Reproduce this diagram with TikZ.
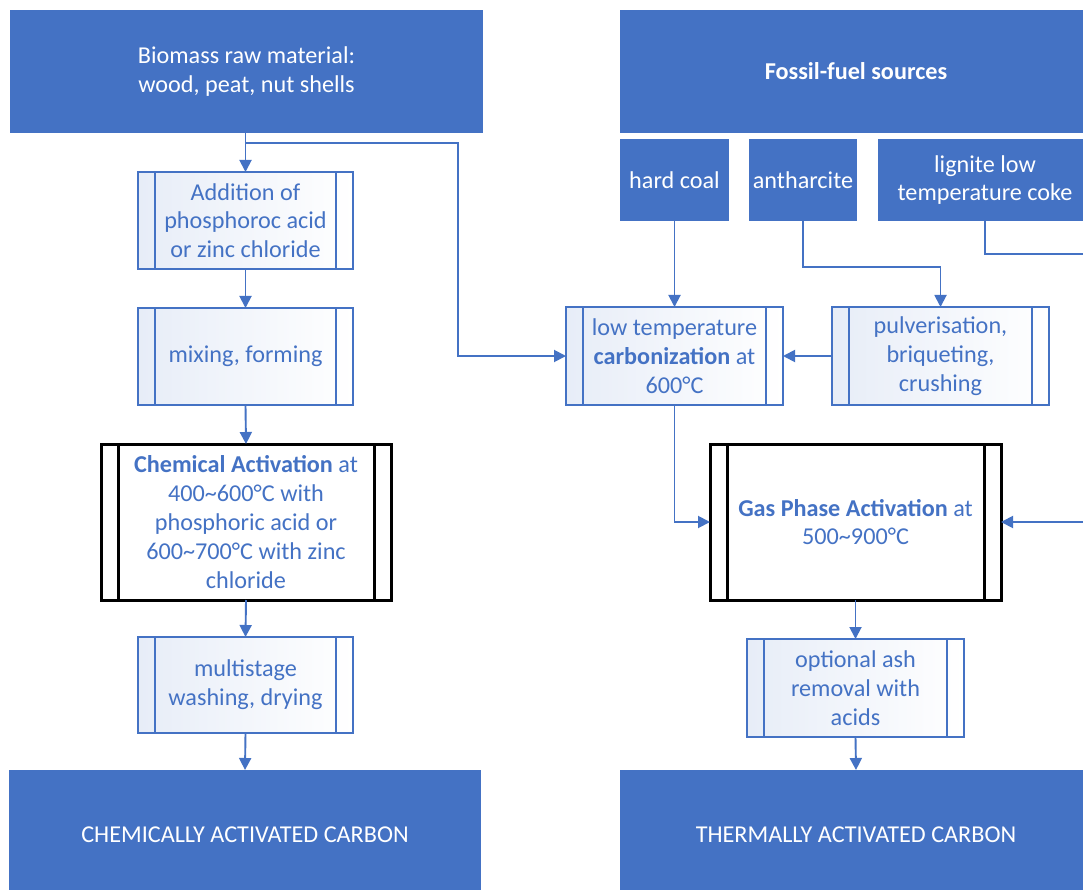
\documentclass[tikz,border=0pt]{standalone}
\usepackage{fontspec}
\setmainfont{Carlito}
\usetikzlibrary{arrows.meta}
\definecolor{mblue}{HTML}{4472C4}
\tikzset{
  base/.style={anchor=north west, align=center, inner sep=0pt, outer sep=0pt,
    font=\fontsize{24.2}{28.8}\selectfont},
  blk/.style={base, fill=mblue, text=white},
  proc/.style={base, draw=mblue, line width=1.4pt, left color=mblue!13, right color=white, text=mblue},
  act/.style={base, draw=black, line width=3pt, fill=white, text=mblue},
  conn/.style={draw=mblue, line width=1.9pt, -{Triangle[width=12pt,length=12pt]}},
  bar/.style={draw=mblue, line width=1.4pt},
  bbar/.style={draw=black, line width=3pt},
}
\newcommand\sidebars[2]{\draw[#2] ([xshift=17pt]#1.north west) -- ([xshift=17pt]#1.south west)
  ([xshift=-17pt]#1.north east) -- ([xshift=-17pt]#1.south east);}
\begin{document}
\begin{tikzpicture}[x=1pt,y=-1pt]
\useasboundingbox (0,0) rectangle (1083,890);
\clip (0,0) rectangle (1083,890);
\fill[white] (0,0) rectangle (1083,890);
% left column
\node[blk, minimum width=473pt, minimum height=123pt] (bio) at (10,10) {Biomass raw material:\\wood, peat, nut shells};
\node[proc, minimum width=215pt, minimum height=97pt] (add) at (138,172) {Addition of\\phosphoroc acid\\or zinc chloride};
\node[proc, minimum width=215pt, minimum height=97pt] (mix) at (138,308) {mixing, forming};
\node[act, minimum width=290pt, minimum height=156pt] (chem) at (101,444) {\textbf{Chemical Activation} at\\400\textasciitilde600°C with\\phosphoric acid or\\600\textasciitilde700°C with zinc\\chloride};
\node[proc, minimum width=215pt, minimum height=96pt] (wash) at (138,637) {multistage\\washing, drying};
\node[blk, minimum width=472pt, minimum height=130pt] (chemc) at (9,770) {CHEMICALLY ACTIVATED CARBON};
% right column
\node[blk, minimum width=472pt, minimum height=123pt] (fossil) at (620,10) {\textbf{Fossil-fuel sources}};
\node[blk, minimum width=109pt, minimum height=82pt] (hard) at (620,139) {hard coal};
\node[blk, minimum width=108pt, minimum height=82pt] (anth) at (749,139) {antharcite};
\node[blk, minimum width=214pt, minimum height=82pt] (lig) at (878,139) {lignite low\\temperature coke};
\node[proc, minimum width=217pt, minimum height=98pt] (carb) at (566,307) {low temperature\\\textbf{carbonization} at\\600°C};
\node[proc, minimum width=217pt, minimum height=98pt] (pulv) at (832,307) {pulverisation,\\briqueting,\\crushing};
\node[act, minimum width=291pt, minimum height=156pt] (gas) at (710,444) {\textbf{Gas Phase Activation} at\\500\textasciitilde900°C};
\node[proc, minimum width=217pt, minimum height=98pt] (ash) at (747,639) {optional ash\\removal with\\acids};
\node[blk, minimum width=472pt, minimum height=130pt] (thermc) at (620,770) {THERMALLY ACTIVATED CARBON};
% side bars
\sidebars{add}{bar}
\sidebars{mix}{bar}
\sidebars{wash}{bar}
\sidebars{carb}{bar}
\sidebars{pulv}{bar}
\sidebars{ash}{bar}
\sidebars{chem}{bbar}
\sidebars{gas}{bbar}
% connectors
\coordinate (br) at (458,143);
\coordinate (ak) at (803,267);
\coordinate (rt) at (1100,254);
\draw[conn] (add.north |- bio.south) -- (add.north);
\draw[conn] (add.north |- br) -- (br) |- (carb.west);
\draw[conn] (add.south) -- (mix.north);
\draw[conn] (mix.south) -- (chem.north);
\draw[conn] (chem.south) -- (wash.north);
\draw[conn] (wash.south) -- (chemc.north);
\draw[conn] (hard.south) -- (hard.south |- carb.north);
\draw[conn] (anth.south) -- (ak) -| (pulv.north);
\draw[conn] (pulv.west) -- (carb.east);
\draw[conn] (carb.south) |- (gas.west);
\draw[conn] (lig.south) |- (rt) |- (gas.east);
\draw[conn] (gas.south) -- (ash.north);
\draw[conn] (ash.south) -- (thermc.north);
\end{tikzpicture}
\end{document}
